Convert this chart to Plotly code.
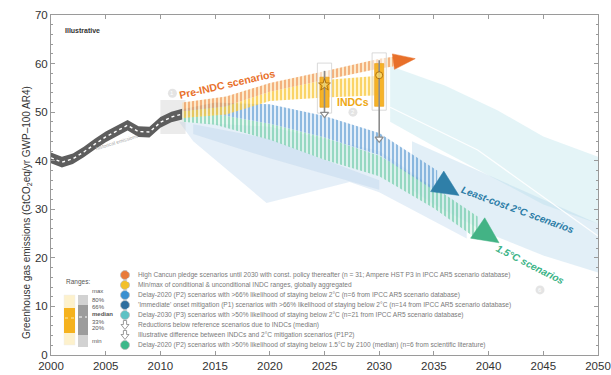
import math
import plotly.graph_objects as go

# ---------------- data ----------------
hist_years = list(range(2000, 2013))
hist_vals = [40.6, 39.7, 40.4, 41.8, 43.4, 44.9, 46.1, 47.3, 46.0, 45.9, 47.9, 49.0, 49.6]
hist_halfwidth = 1.1

pre_years = [2012, 2016, 2020, 2025, 2030, 2031.3]
pre_low = [50.2, 51.2, 54.2, 56.6, 59.0, 59.4]
pre_high = [52.0, 53.2, 56.0, 58.4, 61.0, 61.4]

indc_band_years = [2012, 2016, 2020, 2025, 2030]
indc_band_low = [48.8, 49.5, 52.3, 53.0, 53.5]
indc_band_high = [50.2, 51.2, 54.2, 56.6, 57.5]

c2_years = [2012, 2015, 2020, 2025, 2030, 2035.3]
c2_high = [50.6, 52.0, 51.6, 49.2, 45.7, 38.0]
c2_low = [49.0, 49.6, 47.6, 44.8, 41.2, 33.5]

c15_years = [2012, 2015, 2020, 2025, 2030, 2035, 2039]
c15_high = [49.0, 49.6, 47.6, 44.8, 41.0, 34.6, 28.5]
c15_low = [48.0, 47.4, 44.3, 40.2, 36.8, 30.2, 23.8]

# pale scenario ranges (polygons)
p1_fan_x = [2011.7, 2020, 2030, 2038, 2038, 2030, 2027.3, 2019.7, 2013]
p1_fan_y = [48.0, 47.0, 42.0, 30.0, 24.0, 33.5, 35.6, 31.3, 44.0]
p1_core_x = [2013, 2020, 2027, 2030, 2030, 2027, 2020, 2013]
p1_core_y = [47.5, 44.5, 38.5, 36.0, 34.0, 36.0, 40.5, 45.5]
p3_x = [2031, 2036, 2040.8, 2045, 2050, 2050, 2045, 2040, 2035, 2031]
p3_y = [59.5, 55.5, 50.4, 45.0, 40.8, 27.0, 31.0, 37.0, 43.0, 48.0]
c2_range_x = [2033, 2040, 2045, 2050, 2050, 2045, 2040, 2035, 2033]
c2_range_y = [44.0, 37.0, 32.0, 27.0, 17.0, 20.5, 25.0, 31.0, 34.0]
p3_median_x = [2031, 2039, 2050]
p3_median_y = [51.0, 42.2, 24.5]

hist_box_years = [2010, 2012.3]
hist_box_vals = [45.5, 52.5]

indc_years = [2025, 2030]
indc_min = [49.8, 50.4]
indc_max = [60.1, 62.2]
indc_low = [51.0, 51.2]
indc_high = [57.2, 60.0]
indc_median = [55.6, 57.6]

red_years = [2025, 2030]
red_from = [58.5, 60.7]
red_to = [49.6, 44.5]

marker_labels = ["1", "2", "6"]
marker_years = [2011.1, 2027.6, 2044.7]
marker_vals = [53.9, 50.0, 13.4]

x_ticks = list(range(2000, 2051, 5))
y_ticks = list(range(0, 71, 10))

legend_items = [
    "High Cancun pledge scenarios until 2030 with const. policy thereafter (n = 31; Ampere HST P3 in IPCC AR5 scenario database)",
    "Min/max of conditional & unconditional INDC ranges, globally aggregated",
    "Delay-2020 (P2) scenarios with >66% likelihood of staying below 2°C (n=6 from IPCC AR5 scenario database)",
    "'Immediate' onset mitigation (P1) scenarios with >66% likelihood of staying below 2°C (n=14 from IPCC AR5 scenario database)",
    "Delay-2030 (P3) scenarios with >50% likelihood of staying below 2°C (n=21 from IPCC AR5 scenario database)",
    "Reductions below reference scenarios due to INDCs (median)",
    "Illustrative difference between INDCs and 2°C mitigation scenarios (P1P2)",
    "Delay-2020 (P2) scenarios with >50% likelihood of staying below 1.5°C by 2100 (median) (n=6 from scientific literature)",
]
legend_icons = ["1", "2", "3", "4", "5", "arrow", "arrow", "6"]
range_labels = ["max", "80%", "66%", "median", "33%", "20%", "min"]

# ---------------- layout geometry ----------------
W, H = 611, 375
ML, MR, MT, MB = 51, 13, 15, 20
PW, PH = W - ML - MR, H - MT - MB
X0, X1, Y0, Y1 = 2000, 2050, 0, 70
SX = PW / (X1 - X0)
SY = PH / (Y1 - Y0)
FONT = "Liberation Sans, Arial, sans-serif"


def xp(px):
    return (px - ML) / PW


def yp(py):
    return (H - MB - py) / PH


fig = go.Figure()


def poly(xs, ys, fill, line=None, pattern=None):
    kw = dict(x=list(xs) + [xs[0]], y=list(ys) + [ys[0]], mode="lines", fill="toself",
              fillcolor=fill, line=dict(width=0, color="rgba(0,0,0,0)") if line is None else line,
              hoverinfo="skip", showlegend=False)
    if pattern is not None:
        kw["fillpattern"] = pattern
    fig.add_trace(go.Scatter(**kw))


def band(xs, lo, hi, fill, pattern=None):
    poly(list(xs) + list(xs)[::-1], list(hi) + list(lo)[::-1], fill, pattern=pattern)


def arrowhead(xs, lo, hi, length_px, pad_px, color):
    mx1 = xs[-1]
    my1 = (lo[-1] + hi[-1]) / 2
    mx0 = xs[-2]
    my0 = (lo[-2] + hi[-2]) / 2
    dx = (mx1 - mx0) * SX
    dy = (my1 - my0) * SY
    n = math.hypot(dx, dy)
    ux, uy = dx / n, dy / n
    half_v = (hi[-1] - lo[-1]) / 2 * SY
    half_p = half_v * abs(ux) + pad_px
    nx, ny = -uy, ux
    pts = [
        (mx1 + nx * half_p / SX, my1 + ny * half_p / SY),
        (mx1 + ux * length_px / SX, my1 + uy * length_px / SY),
        (mx1 - nx * half_p / SX, my1 - ny * half_p / SY),
    ]
    poly([p[0] for p in pts], [p[1] for p in pts], color, line=dict(width=0.5, color=color))


# pale ranges
poly(p3_x, p3_y, "rgba(195,230,238,0.45)")
poly(c2_range_x, c2_range_y, "rgba(180,212,234,0.38)")
poly(p1_fan_x, p1_fan_y, "rgba(190,214,238,0.40)")
poly(p1_core_x, p1_core_y, "rgba(165,195,228,0.25)")
fig.add_trace(go.Scatter(x=p3_median_x, y=p3_median_y, mode="lines",
                         line=dict(color="rgba(255,255,255,0.9)", width=1.3),
                         hoverinfo="skip", showlegend=False))

# historical emissions
poly([hist_box_years[0], hist_box_years[1], hist_box_years[1], hist_box_years[0]],
     [hist_box_vals[0], hist_box_vals[0], hist_box_vals[1], hist_box_vals[1]],
     "rgba(205,205,205,0.40)")
band(hist_years, [v - hist_halfwidth for v in hist_vals], [v + hist_halfwidth for v in hist_vals],
     "#5e5e5e")
fig.add_trace(go.Scatter(x=hist_years, y=hist_vals, mode="lines",
                         line=dict(color="white", width=1.4, dash="dot"),
                         hoverinfo="skip", showlegend=False))

# scenario bands (hatched)
band(c15_years, c15_low, c15_high, "rgba(205,238,224,0.5)",
     pattern=dict(shape="|", fgcolor="#4fbf96", bgcolor="rgba(214,242,230,0.6)", size=4, solidity=0.5))
band(c2_years, c2_low, c2_high, "rgba(200,222,242,0.5)",
     pattern=dict(shape="|", fgcolor="#3a86c6", bgcolor="rgba(210,228,246,0.6)", size=4, solidity=0.5))
band(indc_band_years, indc_band_low, indc_band_high, "rgba(255,232,160,0.5)",
     pattern=dict(shape="|", fgcolor="#f5b400", bgcolor="rgba(255,238,178,0.6)", size=4, solidity=0.5))
band(pre_years, pre_low, pre_high, "rgba(250,205,160,0.5)",
     pattern=dict(shape="|", fgcolor="#ea7a2e", bgcolor="rgba(252,220,170,0.6)", size=4, solidity=0.5))

arrowhead(c15_years, c15_low, c15_high, 26, 3, "#43b385")
arrowhead(c2_years, c2_low, c2_high, 26, 3, "#2f7fa8")
arrowhead(pre_years, pre_low, pre_high, 22, 3, "#e8702a")

# INDC ranges
for i, yr in enumerate(indc_years):
    poly([yr - 0.65, yr + 0.65, yr + 0.65, yr - 0.65],
         [indc_min[i], indc_min[i], indc_max[i], indc_max[i]],
         "rgba(255,255,255,0.55)", line=dict(width=0.8, color="#d0d0d0"))
    poly([yr - 0.42, yr + 0.42, yr + 0.42, yr - 0.42],
         [indc_low[i], indc_low[i], indc_high[i], indc_high[i]],
         "rgba(244,172,24,0.92)", line=dict(width=0.6, color="#e79a10"))

# reduction arrows
for i, yr in enumerate(red_years):
    fig.add_trace(go.Scatter(x=[yr, yr], y=[red_from[i], red_to[i]], mode="lines",
                             line=dict(color="#8c8c8c", width=1.6),
                             hoverinfo="skip", showlegend=False))
fig.add_trace(go.Scatter(x=red_years, y=red_to, mode="markers",
                         marker=dict(symbol="triangle-down", size=7, color="white",
                                     line=dict(color="#8c8c8c", width=1.2)),
                         hoverinfo="skip", showlegend=False))
fig.add_trace(go.Scatter(x=indc_years, y=indc_median, mode="markers",
                         marker=dict(symbol=["star", "circle"], size=[9, 7], color="#fbe27a",
                                     line=dict(color="#9a5a00", width=1)),
                         hoverinfo="skip", showlegend=False))

# faint numbered markers
fig.add_trace(go.Scatter(x=marker_years, y=marker_vals, mode="markers",
                         marker=dict(size=9, color="rgba(205,205,205,0.55)"),
                         hoverinfo="skip", showlegend=False))

ann = []
for lab, mx, my in zip(marker_labels, marker_years, marker_vals):
    ann.append(dict(x=mx, y=my, text=lab, showarrow=False,
                    font=dict(family=FONT, size=6, color="white")))
ann.append(dict(x=2016.1, y=55.8, text="<b>Pre-INDC scenarios</b>", textangle=-13, showarrow=False,
                font=dict(family=FONT, size=10.5, color="#e8702a")))
ann.append(dict(x=2027.6, y=52.1, text="<b>INDCs</b>", showarrow=False,
                font=dict(family=FONT, size=10.5, color="#eea712")))
ann.append(dict(x=2042.6, y=29.9, text="<b><i>Least-cost 2°C scenarios</i></b>", textangle=20,
                showarrow=False, font=dict(family=FONT, size=10, color="#2a7ca6")))
ann.append(dict(x=2043.8, y=18.7, text="<b><i>1.5°C scenarios</i></b>", textangle=27,
                showarrow=False, font=dict(family=FONT, size=10, color="#3ab386")))
ann.append(dict(x=2006.0, y=43.9, text="historical emissions", textangle=-17, showarrow=False,
                font=dict(family=FONT, size=5, color="#a8a8a8")))
ann.append(dict(xref="paper", yref="paper", x=xp(63), y=yp(25), xanchor="left",
                text="<b>Illustrative</b>", showarrow=False,
                font=dict(family=FONT, size=7, color="#333")))
ann.append(dict(xref="paper", yref="paper", x=xp(19), y=yp(213), textangle=-90,
                text="Greenhouse gas emissions (GtCO<sub>2</sub>eq/yr GWP–100 AR4)", showarrow=False,
                font=dict(family=FONT, size=10, color="#333")))

shapes = []
# legend rows
icon_colors = {"1": "#e87a3a", "2": "#f2c02a", "3": "#3b90d0", "4": "#2f6e9e", "5": "#5ec2c4", "6": "#3cb88a"}
for i, (txt, ic) in enumerate(zip(legend_items, legend_icons)):
    ry = 275 + 10 * i
    if ic == "arrow":
        cx = 125
        pts = [(cx - 1.6, ry - 4.5), (cx + 1.6, ry - 4.5), (cx + 1.6, ry - 0.5), (cx + 4, ry - 0.5),
               (cx, ry + 4.5), (cx - 4, ry - 0.5), (cx - 1.6, ry - 0.5)]
        path = "M " + " L ".join("%.5f,%.5f" % (xp(a), yp(b)) for a, b in pts) + " Z"
        shapes.append(dict(type="path", xref="paper", yref="paper", path=path,
                           fillcolor="white", line=dict(width=1, color="#9a9a9a")))
    else:
        shapes.append(dict(type="circle", xref="paper", yref="paper", x0=xp(120.5), x1=xp(129.5),
                           y0=yp(ry + 4.5), y1=yp(ry - 4.5), fillcolor=icon_colors[ic],
                           line=dict(width=0.8, color="#bbbbbb")))
        ann.append(dict(xref="paper", yref="paper", x=xp(125), y=yp(ry), text="<b>%s</b>" % ic,
                        showarrow=False, font=dict(family=FONT, size=6, color="white")))
    ann.append(dict(xref="paper", yref="paper", x=xp(136), y=yp(ry), xanchor="left",
                    yanchor="middle", text=txt,
                    showarrow=False, font=dict(family=FONT, size=6.6, color="#7a7a7a")))

# ranges key
ann.append(dict(xref="paper", yref="paper", x=xp(64), y=yp(288), xanchor="left",
                text="Ranges:", showarrow=False, font=dict(family=FONT, size=6.5, color="#555")))
shapes += [
    dict(type="rect", xref="paper", yref="paper", x0=xp(64), x1=xp(75), y0=yp(345), y1=yp(295),
         fillcolor="#fdf1cc", line=dict(width=0.5, color="#eee")),
    dict(type="rect", xref="paper", yref="paper", x0=xp(64), x1=xp(75), y0=yp(333), y1=yp(308),
         fillcolor="#f5b21e", line=dict(width=0)),
    dict(type="line", xref="paper", yref="paper", x0=xp(65), x1=xp(74), y0=yp(318), y1=yp(318),
         line=dict(width=1, color="#fde9a8", dash="dot")),
    dict(type="rect", xref="paper", yref="paper", x0=xp(78), x1=xp(88), y0=yp(347), y1=yp(295),
         fillcolor="#d2d2d2", line=dict(width=0)),
    dict(type="rect", xref="paper", yref="paper", x0=xp(78), x1=xp(88), y0=yp(335), y1=yp(305),
         fillcolor="#9c9c9c", line=dict(width=0)),
    dict(type="line", xref="paper", yref="paper", x0=xp(79), x1=xp(87), y0=yp(317), y1=yp(317),
         line=dict(width=1, color="white", dash="dot")),
]
range_ys = [296, 305, 311.5, 319, 326.5, 333, 346]
for lab, ry in zip(range_labels, range_ys):
    ann.append(dict(xref="paper", yref="paper", x=xp(89.5), y=yp(ry), xanchor="left",
                    text=("<b>%s</b>" % lab) if lab == "median" else lab, showarrow=False,
                    font=dict(family=FONT, size=6, color="#555")))

axis_common = dict(showline=True, linecolor="#9a9a9a", linewidth=1, mirror="ticks", ticks="inside",
                   tickcolor="#9a9a9a", showgrid=False, zeroline=False, automargin=False,
                   tickfont=dict(family=FONT, size=11.5, color="#333"))
fig.update_layout(
    width=W, height=H, margin=dict(l=ML, r=MR, t=MT, b=MB, autoexpand=False),
    paper_bgcolor="white", plot_bgcolor="white", showlegend=False,
    xaxis=dict(range=[X0, X1], tickvals=x_ticks, ticklen=4, **axis_common),
    yaxis=dict(range=[Y0, Y1], tickvals=y_ticks, ticklen=4,
               minor=dict(dtick=2, ticklen=2, ticks="inside", tickcolor="#9a9a9a"), **axis_common),
    annotations=ann, shapes=shapes,
)
fig.write_html("out.html", config={"displayModeBar": False},
               post_script="document.body.style.margin='0px';")
